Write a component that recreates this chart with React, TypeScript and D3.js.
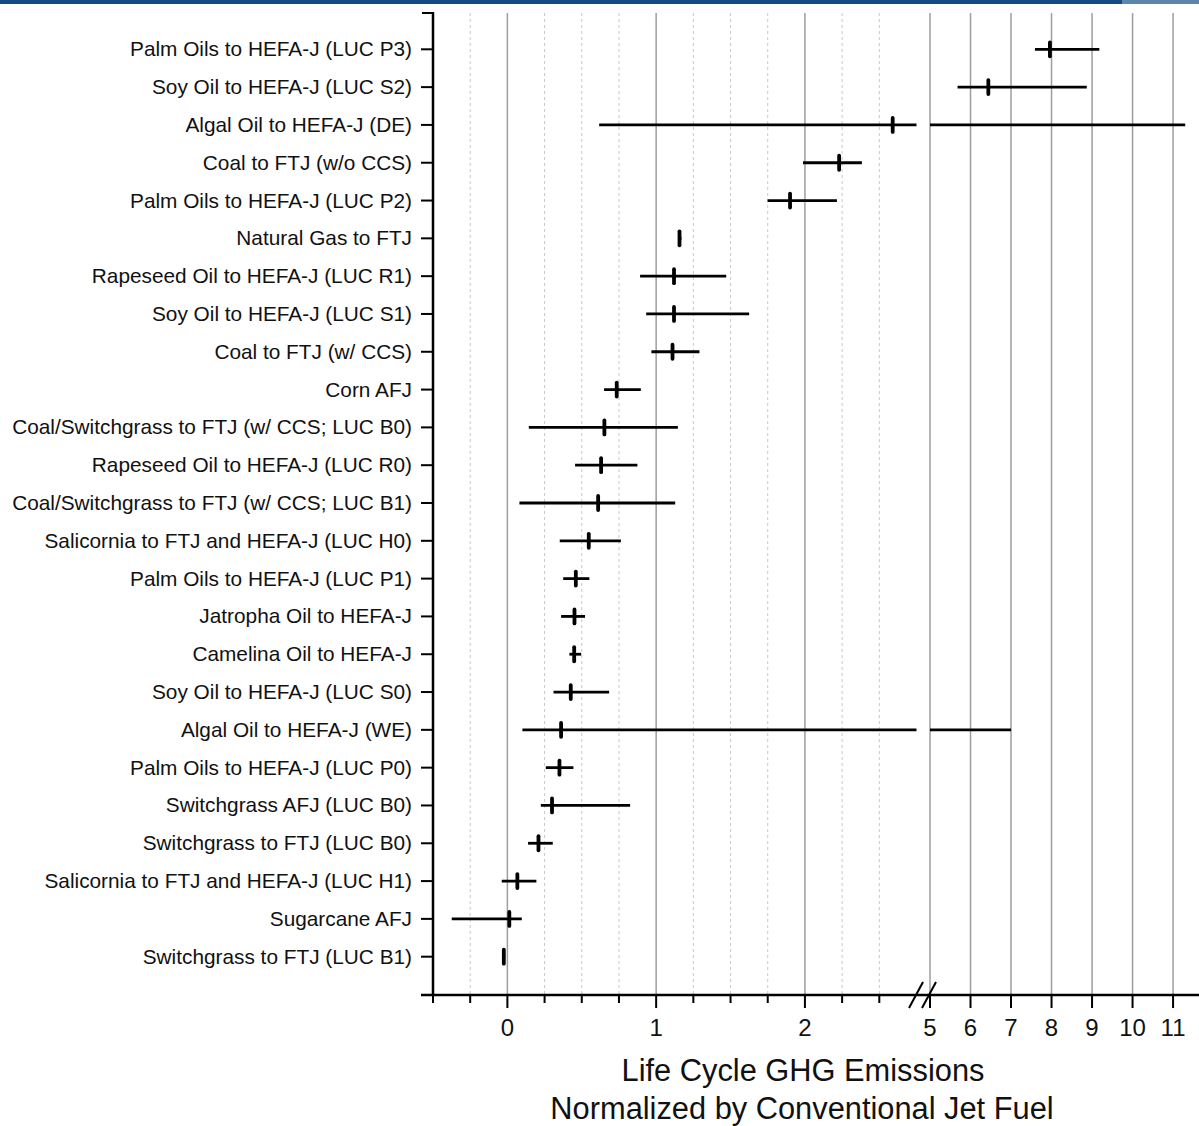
import React, { useEffect, useRef } from "react";
import * as d3 from "d3";

// pathways, top to bottom
const pathways = [
	"Palm Oils to HEFA-J (LUC P3)",
	"Soy Oil to HEFA-J (LUC S2)",
	"Algal Oil to HEFA-J (DE)",
	"Coal to FTJ (w/o CCS)",
	"Palm Oils to HEFA-J (LUC P2)",
	"Natural Gas to FTJ",
	"Rapeseed Oil to HEFA-J (LUC R1)",
	"Soy Oil to HEFA-J (LUC S1)",
	"Coal to FTJ (w/ CCS)",
	"Corn AFJ",
	"Coal/Switchgrass to FTJ (w/ CCS; LUC B0)",
	"Rapeseed Oil to HEFA-J (LUC R0)",
	"Coal/Switchgrass to FTJ (w/ CCS; LUC B1)",
	"Salicornia to FTJ and HEFA-J (LUC H0)",
	"Palm Oils to HEFA-J (LUC P1)",
	"Jatropha Oil to HEFA-J",
	"Camelina Oil to HEFA-J",
	"Soy Oil to HEFA-J (LUC S0)",
	"Algal Oil to HEFA-J (WE)",
	"Palm Oils to HEFA-J (LUC P0)",
	"Switchgrass AFJ (LUC B0)",
	"Switchgrass to FTJ (LUC B0)",
	"Salicornia to FTJ and HEFA-J (LUC H1)",
	"Sugarcane AFJ",
	"Switchgrass to FTJ (LUC B1)",
];

// normalized life cycle GHG: baseline, low, high
const baseline = [7.96, 6.44, 2.59, 2.23, 1.9, 1.157, 1.12, 1.12, 1.11, 0.735, 0.652, 0.63, 0.61, 0.547, 0.46, 0.451, 0.449, 0.426, 0.361, 0.35, 0.3, 0.209, 0.067, 0.013, -0.024];
const low = [7.59, 5.68, 0.617, 1.987, 1.749, 1.147, 0.892, 0.933, 0.968, 0.65, 0.144, 0.455, 0.081, 0.352, 0.375, 0.361, 0.417, 0.31, 0.101, 0.258, 0.225, 0.139, -0.038, -0.374, -0.036];
const high = [9.18, 8.87, 11.3, 2.383, 2.215, 1.17, 1.471, 1.625, 1.291, 0.897, 1.146, 0.874, 1.128, 0.763, 0.551, 0.522, 0.496, 0.684, 7.0, 0.444, 0.825, 0.305, 0.195, 0.097, -0.015];

const leftMajor = [0, 1, 2];
const leftMinor = [-0.5, -0.25, 0.25, 0.5, 0.75, 1.25, 1.5, 1.75, 2.25, 2.5];
const rightMajor = [5, 6, 7, 8, 9, 10, 11];

const W = 1199;
const H = 1126;
const FONT = "'Liberation Sans', Arial, sans-serif";

export default function App() {
	const ref = useRef<SVGSVGElement>(null);

	useEffect(() => {
		const svg = d3.select(ref.current);
		svg.selectAll("*").remove();

		const top = 13;
		const bottom = 995;
		const axisX = 433;
		const breakLo = 2.75;
		const breakHi = 5;

		const xLeft = d3.scaleLinear().domain([-0.5, breakLo]).range([axisX, 916.5]);
		const xRight = d3.scaleLinear().domain([breakHi, 11.64]).range([930, W]);
		const xOf = (v: number) => (v <= breakLo ? xLeft(v) : xRight(v));
		const y = d3.scalePoint<string>().domain(pathways).range([11.5, 994.5]).padding(1);

		// banner strip
		svg.append("rect").attr("x", 0).attr("y", 0).attr("width", 1122).attr("height", 4).attr("fill", "#134a84");
		svg.append("rect").attr("x", 1122).attr("y", 0).attr("width", W - 1122).attr("height", 4).attr("fill", "#5e86ad");

		// grid
		const grid = svg.append("g");
		grid.selectAll(".minor").data(leftMinor.filter(d => d > -0.5)).join("line")
			.attr("x1", d => xLeft(d)).attr("x2", d => xLeft(d))
			.attr("y1", top).attr("y2", bottom)
			.attr("stroke", "#c8c8c8").attr("stroke-width", 1).attr("stroke-dasharray", "3,3");
		grid.selectAll(".majorL").data(leftMajor).join("line")
			.attr("x1", d => xLeft(d)).attr("x2", d => xLeft(d))
			.attr("y1", top).attr("y2", bottom)
			.attr("stroke", "#9e9e9e").attr("stroke-width", 1.5);
		grid.selectAll(".majorR").data(rightMajor).join("line")
			.attr("class", "majorR")
			.attr("x1", d => xRight(d)).attr("x2", d => xRight(d))
			.attr("y1", top).attr("y2", bottom)
			.attr("stroke", "#9e9e9e").attr("stroke-width", 1.5);

		// error bars, split over the break
		const bars = svg.append("g");
		pathways.forEach((name, i) => {
			const yy = y(name) as number;
			const lo = low[i];
			const hi = high[i];
			if (lo < breakLo) {
				bars.append("line")
					.attr("x1", xLeft(lo)).attr("x2", xLeft(Math.min(hi, breakLo)))
					.attr("y1", yy).attr("y2", yy)
					.attr("stroke", "#000").attr("stroke-width", 2.8);
			}
			if (hi > breakHi) {
				bars.append("line")
					.attr("x1", xRight(Math.max(lo, breakHi))).attr("x2", xRight(hi))
					.attr("y1", yy).attr("y2", yy)
					.attr("stroke", "#000").attr("stroke-width", 2.8);
			}
			bars.append("line")
				.attr("x1", xOf(baseline[i])).attr("x2", xOf(baseline[i]))
				.attr("y1", yy - 7).attr("y2", yy + 7)
				.attr("stroke", "#000").attr("stroke-width", 3.8).attr("stroke-linecap", "round");
		});

		// left axis
		const ax = svg.append("g").attr("stroke", "#000");
		ax.append("line").attr("x1", axisX).attr("x2", axisX).attr("y1", top - 1).attr("y2", bottom + 1).attr("stroke-width", 2.5);
		ax.append("line").attr("x1", 422).attr("x2", axisX).attr("y1", top).attr("y2", top).attr("stroke-width", 2);
		pathways.forEach(name => {
			const yy = y(name) as number;
			ax.append("line").attr("x1", 421).attr("x2", axisX).attr("y1", yy).attr("y2", yy).attr("stroke-width", 2);
		});
		svg.append("g").selectAll("text").data(pathways).join("text")
			.attr("x", 412).attr("y", d => (y(d) as number) + 7)
			.attr("text-anchor", "end")
			.attr("font-family", FONT).attr("font-size", 20.8).attr("fill", "#111")
			.text(d => d);

		// bottom axis
		ax.append("line").attr("x1", 421).attr("x2", W).attr("y1", bottom).attr("y2", bottom).attr("stroke-width", 2.5);
		leftMinor.forEach(v => {
			ax.append("line").attr("x1", xLeft(v)).attr("x2", xLeft(v)).attr("y1", bottom).attr("y2", bottom + 8).attr("stroke-width", 2);
		});
		leftMajor.forEach(v => {
			ax.append("line").attr("x1", xLeft(v)).attr("x2", xLeft(v)).attr("y1", bottom).attr("y2", bottom + 13).attr("stroke-width", 2);
		});
		rightMajor.forEach(v => {
			ax.append("line").attr("x1", xRight(v)).attr("x2", xRight(v)).attr("y1", bottom).attr("y2", bottom + 13).attr("stroke-width", 2);
		});
		// break marks
		ax.append("line").attr("x1", 909).attr("y1", 1008).attr("x2", 923).attr("y2", 982).attr("stroke-width", 2);
		ax.append("line").attr("x1", 922).attr("y1", 1008).attr("x2", 936).attr("y2", 982).attr("stroke-width", 2);

		const tickLabels = svg.append("g").attr("font-family", FONT).attr("font-size", 24).attr("fill", "#111").attr("text-anchor", "middle");
		leftMajor.forEach(v => tickLabels.append("text").attr("x", xLeft(v)).attr("y", 1036).text(String(v)));
		rightMajor.forEach(v => tickLabels.append("text").attr("x", xRight(v)).attr("y", 1036).text(String(v)));

		// axis title
		const title = svg.append("g").attr("font-family", FONT).attr("font-size", 30.8).attr("fill", "#111").attr("text-anchor", "middle");
		title.append("text").attr("x", 803).attr("y", 1081).text("Life Cycle GHG Emissions");
		title.append("text").attr("x", 802).attr("y", 1119).text("Normalized by Conventional Jet Fuel");
	}, []);

	return (
		<svg ref={ref} width={W} height={H} style={{ position: "absolute", left: 0, top: 0, background: "#fff" }} />
	);
}
